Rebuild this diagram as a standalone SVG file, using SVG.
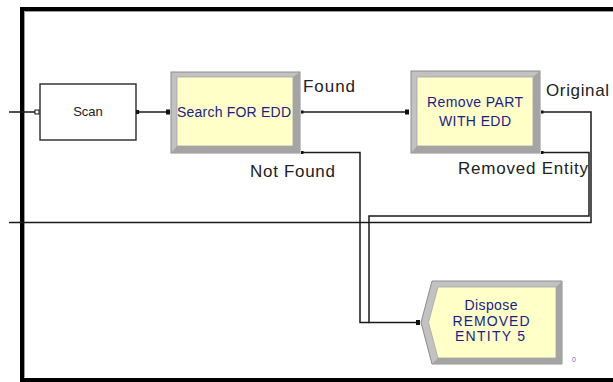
<svg xmlns="http://www.w3.org/2000/svg" width="613" height="382" viewBox="0 0 613 382">
  <style>
    .conn { fill: none; stroke: #1a1a1a; stroke-width: 1.5; }
    .bevel { fill: #c2c2c2; stroke: #8c8c8c; stroke-width: 1; }
    .shade { fill: #a4a4a4; }
    .face { fill: #ffffc8; stroke: #a6a6a6; stroke-width: 0.8; }
    .mod { font-family: "Liberation Sans", Arial, sans-serif; font-size: 14px; fill: #1c1c8a; text-anchor: middle; }
    .lbl { font-family: "Liberation Sans", Arial, sans-serif; font-size: 17px; fill: #222222; }
    .port { fill: #111111; }
  </style>

  <rect x="0" y="0" width="613" height="382" fill="#ffffff"/>

  <!-- window frame -->
  <path d="M613,9 H22 V380 H613" fill="none" stroke="#000000" stroke-width="4"/>
  <path d="M613,11.5 H24.5 V377.5" fill="none" stroke="#9a9a9a" stroke-width="1"/>

  <g id="connectors">
    <!-- incoming to Scan -->
    <path class="conn" d="M9,112 H36"/>
    <!-- Scan to Search -->
    <path class="conn" d="M137,112 H169"/>
    <!-- Found -->
    <path class="conn" d="M302,112 H409"/>
    <!-- Original: loops back to the left edge -->
    <path class="conn" d="M542,112 H591 V222.5 H9" stroke="#333333"/>
    <!-- Removed Entity to Dispose -->
    <path class="conn" d="M542,152.5 H589 V216 H369 V322.5 H418"/>
    <!-- Not Found to Dispose -->
    <path class="conn" d="M302,152.5 H360 V322.5 H369"/>
    <!-- ports -->
    <rect x="35" y="110" width="4" height="4" fill="#ffffff" stroke="#111" stroke-width="1"/>
    <rect class="port" x="136" y="110" width="3" height="4"/>
    <rect class="port" x="166" y="109.5" width="4" height="5"/>
    <rect class="port" x="301" y="110.5" width="2.5" height="3"/>
    <rect class="port" x="301" y="151" width="2.5" height="3"/>
    <rect class="port" x="405" y="109.5" width="4" height="5"/>
    <rect class="port" x="541" y="110.5" width="2.5" height="3"/>
    <rect class="port" x="541" y="151" width="2.5" height="3"/>
    <rect class="port" x="416" y="320" width="4" height="5"/>
  </g>

  <g id="scan">
    <rect x="40" y="84" width="96" height="56" fill="#ffffff" stroke="#1a1a1a" stroke-width="1.3"/>
    <text x="88" y="116" font-family="'Liberation Sans', Arial, sans-serif" font-size="13" fill="#222222" text-anchor="middle">Scan</text>
  </g>

  <g id="search-for-edd">
    <rect class="bevel" x="171" y="72" width="129" height="81"/>
    <polygon class="shade" points="300,72 300,153 171,153 177,146 293,146 293,77"/>
    <rect class="face" x="177" y="77" width="116" height="69"/>
    <text class="mod" x="234" y="117" textLength="114" lengthAdjust="spacing">Search FOR EDD</text>
  </g>

  <g id="remove-part-with-edd">
    <rect class="bevel" x="411" y="71" width="129" height="82"/>
    <polygon class="shade" points="540,71 540,153 411,153 417,146 533,146 533,77"/>
    <rect class="face" x="417" y="77" width="116" height="69"/>
    <text class="mod" x="475" y="107" textLength="96" lengthAdjust="spacing">Remove PART</text>
    <text class="mod" x="475" y="126" textLength="72" lengthAdjust="spacing">WITH EDD</text>
  </g>

  <g id="dispose-removed-entity-5">
    <polygon class="bevel" points="432,281 562,281 562,364 432,364 421,322.5"/>
    <polygon class="shade" points="562,281 562,364 432,364 438,358 556,358 556,287"/>
    <polygon class="face" points="438,287 556,287 556,358 438,358 428.5,322.5"/>
    <text class="mod" x="491" y="310" font-size="15" textLength="53" lengthAdjust="spacing">Dispose</text>
    <text class="mod" x="491" y="326" font-size="15" textLength="77" lengthAdjust="spacing">REMOVED</text>
    <text class="mod" x="490" y="341" font-size="15" textLength="70" lengthAdjust="spacing">ENTITY 5</text>
    <text x="572" y="362" font-family="'Liberation Sans', Arial, sans-serif" font-size="7" fill="#6a6ab8">0</text>
  </g>

  <!-- connector labels -->
  <text class="lbl" x="303" y="92" textLength="52" lengthAdjust="spacing">Found</text>
  <text class="lbl" x="250" y="177" textLength="85" lengthAdjust="spacing">Not Found</text>
  <text class="lbl" x="546" y="96" textLength="63" lengthAdjust="spacing">Original</text>
  <text class="lbl" x="458" y="174" textLength="130" lengthAdjust="spacing">Removed Entity</text>
</svg>
